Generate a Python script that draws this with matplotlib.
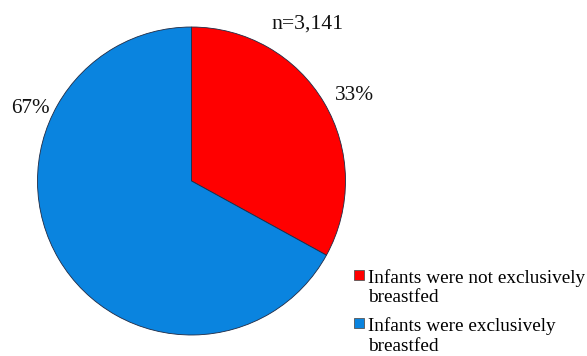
import matplotlib
matplotlib.use("Agg")
import matplotlib.pyplot as plt
from matplotlib.patches import Patch, Rectangle
from matplotlib.legend_handler import HandlerPatch

categories = ["Infants were not exclusively\nbreastfed", "Infants were exclusively\nbreastfed"]
shares = [33, 67]
pct_labels = ["33%", "67%"]
sample_note = "n=3,141"

RED = "#FF0000"
BLUE = "#0A84DF"
EDGE = "#1F2A44"
W, H = 587, 356
LEG_FS = 13.85
LINE_SP = 1.2

plt.rcParams["font.family"] = ["Liberation Serif", "DejaVu Serif"]


def first_line_square(legend, orig_handle, xdescent, ydescent, width, height, fontsize):
    # put the swatch next to the first text line instead of the middle of the block
    shift = fontsize * 0.68
    return Rectangle((-xdescent, -ydescent + shift), width, width)


fig = plt.figure(figsize=(W / 100, H / 100), dpi=100, facecolor="white")
ax = fig.add_axes([37.5 / W, 21 / H, 308 / W, 308 / H])
ax.pie(shares, colors=[RED, BLUE], startangle=90, counterclock=False,
       radius=1.0, wedgeprops=dict(edgecolor=EDGE, linewidth=0.6))
ax.set_xlim(-1, 1)
ax.set_ylim(-1, 1)
ax.set_aspect("equal")
ax.axis("off")

# percentage labels and sample size
fig.text(355 / W, 1 - 100 / H, pct_labels[0], ha="center", va="baseline",
         fontsize=15.4, color="#111111")
fig.text(30.5 / W, 1 - 113 / H, pct_labels[1], ha="center", va="baseline",
         fontsize=15.2, color="#111111")
fig.text(307.5 / W, 1 - 29 / H, sample_note, ha="center", va="baseline",
         fontsize=15.6, color="#111111")

handles = [Patch(facecolor=RED, edgecolor="#555555", linewidth=0.6),
           Patch(facecolor=BLUE, edgecolor="#555555", linewidth=0.6)]
leg = fig.legend(handles, categories, loc="upper left", bbox_to_anchor=(354 / W, 1 - 269 / H),
                 frameon=False, fontsize=LEG_FS, handlelength=0.52, handleheight=0.52,
                 handletextpad=0.22, labelspacing=0.55, borderaxespad=0, borderpad=0,
                 handler_map={Patch: HandlerPatch(patch_func=first_line_square)})
for t in leg.get_texts():
    t.set_linespacing(LINE_SP)

fig.savefig("out.png", dpi=100, facecolor="white")
